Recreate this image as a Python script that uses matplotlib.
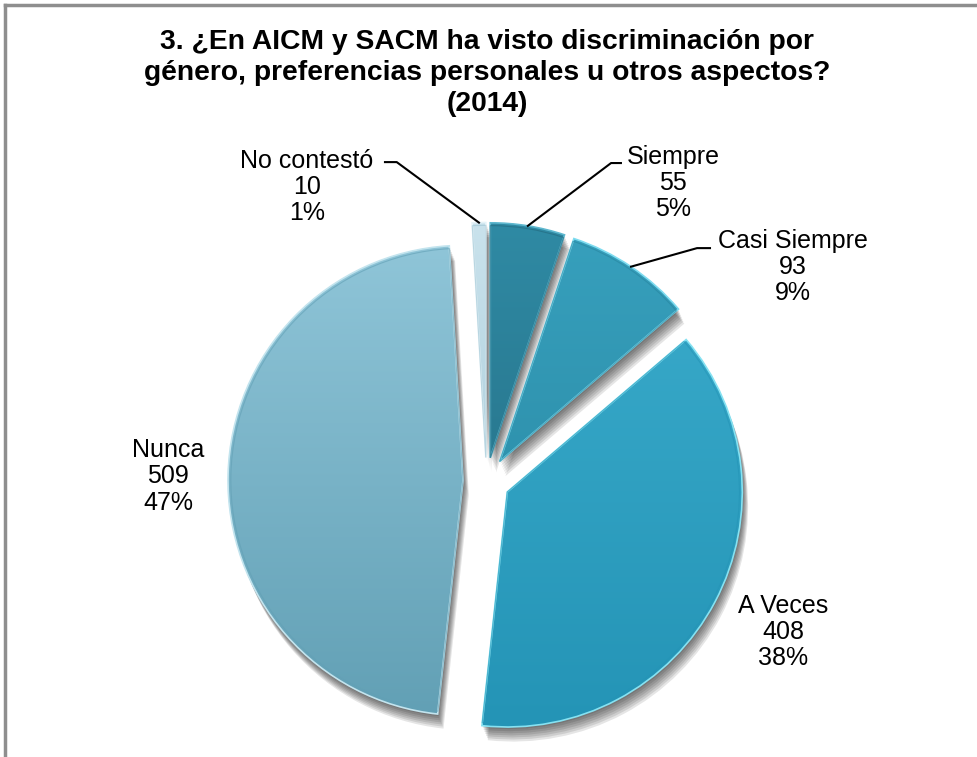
import numpy as np
import matplotlib.pyplot as plt
from matplotlib import patheffects as pe
from matplotlib.patches import Wedge
from matplotlib.colors import LinearSegmentedColormap

plt.rcParams['font.family'] = ['Liberation Sans', 'DejaVu Sans']

# data
categories = ['Siempre', 'Casi Siempre', 'A Veces', 'Nunca', 'No contestó']
counts = [55, 93, 408, 509, 10]
title = ('3. ¿En AICM y SACM ha visto discriminación por\n'
         'género, preferencias personales u otros aspectos?\n(2014)')

# colours (light top -> dark bottom) per slice
light = ['#2f8aa4', '#37a0bd', '#3aabcb', '#8fc5d8', '#c9e2ec']
dark = ['#23687d', '#27859f', '#2494b6', '#62a0b5', '#9cc3d2']
edge_hi = ['#5fb8cf', '#7fdcf0', '#86e2f2', '#c3e4ee', '#e6f3f8']

# label layout (data units, radius = 1)
label_xy = [(0.794, 1.268), (1.304, 0.911), (1.264, -0.643), (-1.355, 0.02), (-0.764, 1.251)]
leader = [[(0.530, 1.353), (0.572, 1.353)],
          [(0.896, 0.991), (0.951, 0.991)],
          None,
          None,
          [(-0.382, 1.357), (-0.432, 1.357)]]

W, H = 977, 757
R = 235.0           # pie radius in px
cx, cy = 486.5, 481  # pie centre in px (from top-left)

fig = plt.figure(figsize=(W / 100, H / 100), dpi=100)
ax = fig.add_axes([0, 0, 1, 1])

total = sum(counts)
shadow = [pe.SimplePatchShadow(offset=(o * 0.6, -o * 1.5), shadow_rgbFace='k', alpha=0.1)
          for o in (1, 2, 3, 4, 5, 6, 7)] + [pe.Normal()]
wedges, _ = ax.pie(counts, startangle=90, counterclock=False, explode=[0.1] * len(counts),
                   colors=light, radius=1.0,
                   wedgeprops=dict(linewidth=0, path_effects=shadow))

xlim = (-cx / R, (W - cx) / R)
ylim = (-(H - cy) / R, cy / R)
yy = np.linspace(1, 0, 256).reshape(-1, 1) * np.ones((1, 2))
for i, w in enumerate(wedges):
    cm = LinearSegmentedColormap.from_list('g%d' % i, [dark[i], light[i]])
    x0, y0 = w.center
    im = ax.imshow(yy, cmap=cm, extent=(x0 - 1, x0 + 1, y0 - 1, y0 + 1),
                   aspect='auto', zorder=2, interpolation='bilinear', origin='upper')
    im.set_clip_path(w)
    rim = Wedge(w.center, w.r, w.theta1, w.theta2, facecolor='none',
                edgecolor=edge_hi[i], linewidth=1.2, zorder=3)
    ax.add_patch(rim)
    rim2 = Wedge(w.center, w.r - 0.012, w.theta1, w.theta2, facecolor='none',
                 edgecolor=dark[i], linewidth=0.8, alpha=0.6, zorder=3)
    ax.add_patch(rim2)

# labels and leader lines
for i, w in enumerate(wedges):
    pct = '%d%%' % round(100 * counts[i] / total)
    lx, ly = label_xy[i]
    ax.text(lx, ly, '%s\n%d\n%s' % (categories[i], counts[i], pct), ha='center', va='center',
            fontsize=18, linespacing=1.12, zorder=5)
    if leader[i] is not None:
        a = np.deg2rad((w.theta1 + w.theta2) / 2)
        sx = w.center[0] + w.r * np.cos(a)
        sy = w.center[1] + w.r * np.sin(a)
        px = [sx] + [p[0] for p in leader[i]]
        py = [sy] + [p[1] for p in leader[i]]
        ax.plot(px, py, color='black', lw=1.5, zorder=4)

ax.set_aspect('auto')
ax.set_xlim(*xlim)
ax.set_ylim(*ylim)
ax.axis('off')

fig.text(487 / W, 1 - 73 / H, title, ha='center', va='center', fontsize=20.3,
         fontweight='bold', linespacing=1.26)

# chart border (only top and left visible)
fig.add_artist(plt.Line2D([5 / W, 5 / W], [0, 1 - 5 / H], color='#8e8e8e', lw=2.5))
fig.add_artist(plt.Line2D([5 / W, 1], [1 - 5 / H, 1 - 5 / H], color='#8e8e8e', lw=2.5))

fig.savefig('out.png', dpi=100, facecolor='white')
